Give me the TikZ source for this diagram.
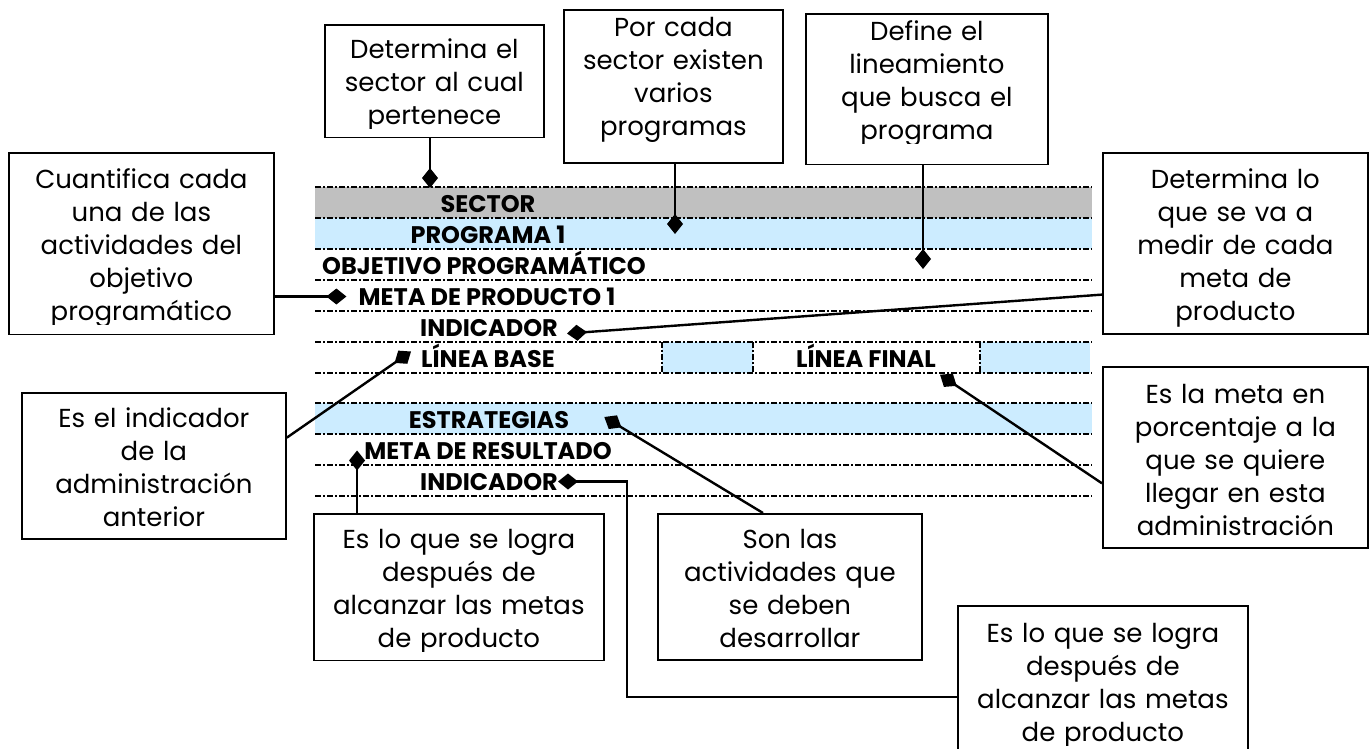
\documentclass[tikz,border=0pt]{standalone}
\usepackage{fontspec}
\setmainfont{Poppins}
\usetikzlibrary{arrows.meta}
\definecolor{gris}{HTML}{C0C0C0}
\definecolor{celeste}{HTML}{CCECFF}
\tikzset{
  caja/.style={draw=black, line width=1.8pt, fill=white, inner sep=0pt, anchor=north west,
    align=center, font=\fontsize{26}{33}\selectfont},
  fila/.style={anchor=base, inner sep=0pt, text height=17pt, text depth=0pt,
    font=\fontsize{24}{28}\selectfont\bfseries},
  renglon/.style={line width=2pt, dash pattern=on 6pt off 2pt on 2pt off 2pt},
  conecta/.style={line width=2.4pt, -{Diamond[length=20pt,width=16pt]}}
}
\begin{document}
\begin{tikzpicture}[x=1pt,y=-1pt]
  \useasboundingbox (0,0) rectangle (1371,748);

  \fill[gris] (315,187) rectangle (1092,218);
  \fill[celeste] (315,218) rectangle (1092,249);
  \fill[celeste] (662,342) rectangle (753,373);
  \fill[celeste] (980,342) rectangle (1090,373);
  \fill[celeste] (315,403) rectangle (1092,434);
  \foreach \y in {187,218,...,373} {
    \draw[renglon] (315,\y) -- (1092,\y);
  }
  \foreach \y in {403,434,465,496} {
    \draw[renglon] (315,\y) -- (1092,\y);
  }
  \foreach \x in {662,753,980} {
    \draw[renglon] (\x,342) -- (\x,373);
  }

  \node[fila] (lsector) at (488,212) {SECTOR};
  \node[fila] (lprog) at (488,243) {PROGRAMA 1};
  \node[fila] (lobj) at (484,274) {OBJETIVO PROGRAMÁTICO};
  \node[fila] (lmeta) at (487,305) {META DE PRODUCTO 1};
  \node[fila] (lind) at (489,336) {INDICADOR};
  \node[fila] (lbase) at (488,367) {LÍNEA BASE};
  \node[fila] (lfinal) at (866,367) {LÍNEA FINAL};
  \node[fila] (lestr) at (489,428) {ESTRATEGIAS};
  \node[fila] (lres) at (488,459) {META DE RESULTADO};
  \node[fila] (lind2) at (489,490) {INDICADOR};

  \node[caja, text width=219pt, text height=34pt, text depth=78pt] (csector) at (324,24)
    {Determina el\\sector al cual\\pertenece};
  \node[caja, text width=219pt, text height=27pt, text depth=126pt] (cprog) at (563,9)
    {Por cada\\sector existen\\varios\\programas};
  \node[caja, text width=242pt, text height=27pt, text depth=123pt] (clinea) at (805,13)
    {Define el\\lineamiento\\que busca el\\programa};
  \node[caja, text width=265pt, text height=36pt, text depth=145pt] (ccuant) at (8,152)
    {Cuantifica cada\\una de las\\actividades del\\objetivo\\programático};
  \node[caja, text width=265pt, text height=36pt, text depth=145pt] (cmedir) at (1102,152)
    {Determina lo\\que se va a\\medir de cada\\meta de\\producto};
  \node[caja, text width=264pt, text height=35pt, text depth=111pt] (cbase) at (21,392)
    {Es el indicador\\de la\\administración\\anterior};
  \node[caja, text width=265pt, text height=37pt, text depth=144pt] (cfinal) at (1102,366)
    {Es la meta en\\porcentaje a la\\que se quiere\\llegar en esta\\administración};
  \node[caja, text width=290pt, text height=35pt, text depth=111pt] (cresul) at (313,513)
    {Es lo que se logra\\después de\\alcanzar las metas\\de producto};
  \node[caja, text width=264pt, text height=35pt, text depth=111pt] (cactiv) at (657,513)
    {Son las\\actividades que\\se deben\\desarrollar};
  \node[caja, text width=290pt, text height=37pt, text depth=128pt] (cresul2) at (957,605)
    {Es lo que se logra\\después de\\alcanzar las metas\\de producto};

  % descenders of the last line are cut by the text frame
  \foreach \c/\s in {csector/9pt,clinea/21pt,ccuant/10pt,cresul/9pt,cresul2/26pt} {
    \fill[white] ([xshift=1.5pt,yshift=1.2pt]\c.south west) rectangle ([xshift=-1.5pt,yshift=\s]\c.south east);
  }

  \coordinate (psec) at (430,188);
  \coordinate (pprog) at (675,234);
  \coordinate (pobj) at (923,269);
  \coordinate (pres) at ([xshift=-7pt]lres.west);
  \coordinate (codo) at (627,697);

  \draw[conecta] (csector.south -| psec) -- (psec);
  \draw[conecta] (cprog.south -| pprog) -- (pprog);
  \draw[conecta] (clinea.south -| pobj) -- (pobj);
  \draw[conecta] (ccuant.east |- lmeta.west) -- ([xshift=-12pt]lmeta.west);
  \draw[conecta] (cmedir.201) -- ([shift={(9,-2.5)}]lind.base east);
  \draw[conecta] (cbase.12) -- ([shift={(-10,-7)}]lbase.west);
  \draw[conecta] (cfinal.191) -- ([shift={(4,7.5)}]lfinal.south east);
  \draw[conecta] (cresul.north -| pres) -- (pres);
  \draw[conecta] (cactiv.110) -- ([shift={(35,-2.5)}]lestr.east);
  \draw[conecta] (cresul2.west |- codo) -- (codo) |- (lind2.east);
\end{tikzpicture}
\end{document}
